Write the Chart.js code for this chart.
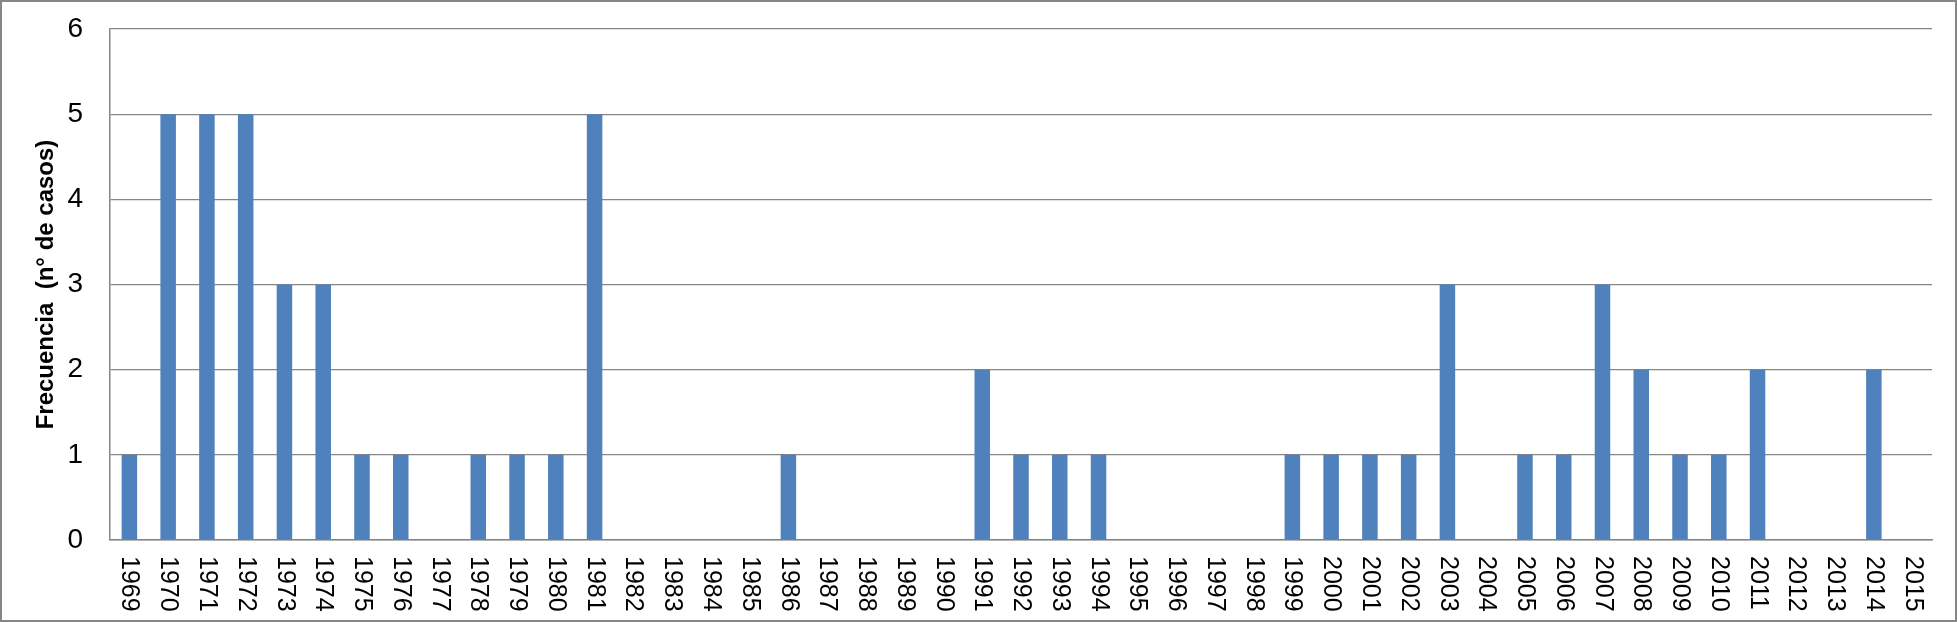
<!DOCTYPE html>
<html>
<head>
<meta charset="utf-8">
<script src="https://cdn.jsdelivr.net/npm/chart.js@4/dist/chart.umd.min.js"></script>
<style>
  html, body { margin: 0; padding: 0; background: #fff; }
  #wrap { width: 1957px; height: 622px; }
</style>
</head>
<body>
<div id="wrap"><canvas id="freqChart"></canvas></div>
<script>
// ====================== DATA ======================
const years = [
    '1969', '1970', '1971', '1972', '1973', '1974', '1975', '1976', '1977', '1978',
    '1979', '1980', '1981', '1982', '1983', '1984', '1985', '1986', '1987', '1988',
    '1989', '1990', '1991', '1992', '1993', '1994', '1995', '1996', '1997', '1998',
    '1999', '2000', '2001', '2002', '2003', '2004', '2005', '2006', '2007', '2008',
    '2009', '2010', '2011', '2012', '2013', '2014', '2015'
];
const casos = [
    1, 5, 5, 5, 3, 3, 1, 1, 0, 1,
    1, 1, 5, 0, 0, 0, 0, 1, 0, 0,
    0, 0, 2, 1, 1, 1, 0, 0, 0, 0,
    1, 1, 1, 1, 3, 0, 1, 1, 3, 2,
    1, 1, 2, 0, 0, 2, 0
];
const yTitle = 'Frecuencia  (n° de casos)';

const GRID = '#868686';
const FONT = '"Liberation Sans", Arial, sans-serif';

// frame + white background
const framePlugin = {
    id: 'frame',
    beforeDraw(chart) {
        const ctx = chart.ctx;
        ctx.save();
        ctx.fillStyle = '#fff';
        ctx.fillRect(0, 0, chart.width, chart.height);
        ctx.restore();
    },
    afterDraw(chart) {
        const ctx = chart.ctx;
        ctx.save();
        ctx.strokeStyle = GRID;
        ctx.lineWidth = 2;
        ctx.strokeRect(1, 1, chart.width - 2, chart.height - 2);
        ctx.restore();
    }
};

// year labels read top-to-bottom (rotated clockwise), like the original
const yearLabelsPlugin = {
    id: 'yearLabels',
    afterDraw(chart) {
        const ctx = chart.ctx;
        const xScale = chart.scales.x;
        const top = chart.chartArea.bottom + 16;
        ctx.save();
        ctx.fillStyle = '#000';
        ctx.font = '25px ' + FONT;
        ctx.textAlign = 'left';
        ctx.textBaseline = 'middle';
        years.forEach((y, i) => {
            const x = xScale.getPixelForValue(i);
            ctx.save();
            ctx.translate(x, top);
            ctx.rotate(Math.PI / 2);
            ctx.fillText(y, 0, 0);
            ctx.restore();
        });
        ctx.restore();
    }
};

const ctx = document.getElementById('freqChart').getContext('2d');
new Chart(ctx, {
    type: 'bar',
    data: {
        labels: years,
        datasets: [{
            data: casos,
            backgroundColor: '#4F81BD',
            borderWidth: 0,
            barPercentage: 0.4,
            categoryPercentage: 1.0
        }]
    },
    options: {
        responsive: true,
        maintainAspectRatio: false,
        animation: false,
        layout: { padding: { top: 0, right: 25, bottom: 0, left: 0 } },
        plugins: {
            legend: { display: false },
            tooltip: { enabled: false }
        },
        scales: {
            x: {
                grid: { display: false, drawTicks: false },
                border: { color: GRID, width: 1.5 },
                ticks: { display: false },
                afterFit(scale) { scale.height = 82; }
            },
            y: {
                min: 0,
                max: 6,
                ticks: {
                    stepSize: 1,
                    padding: 27,
                    color: '#000',
                    font: { family: FONT, size: 28 }
                },
                grid: { color: GRID, lineWidth: 1.2, drawTicks: false },
                border: { color: GRID, width: 1.5 },
                title: {
                    display: true,
                    text: yTitle,
                    color: '#000',
                    font: { family: FONT, size: 24, weight: 'bold' },
                    padding: { top: 32, bottom: 0 }
                },
                afterFit(scale) {
                    scale.width = 110;
                    scale.paddingTop = 29;
                    scale.paddingBottom = 0;
                }
            }
        }
    },
    plugins: [framePlugin, yearLabelsPlugin]
});
</script>
</body>
</html>
